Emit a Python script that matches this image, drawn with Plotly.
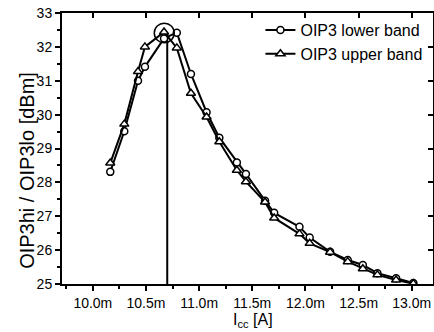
import plotly.graph_objects as go

# Bias current I_cc [A] (shared sweep points)
i_cc = [10.164e-3, 10.296e-3, 10.425e-3, 10.49e-3, 10.67e-3, 10.79e-3, 10.923e-3,
        11.07e-3, 11.19e-3, 11.355e-3, 11.44e-3, 11.62e-3, 11.706e-3, 11.944e-3,
        12.04e-3, 12.232e-3, 12.398e-3, 12.54e-3, 12.677e-3, 12.853e-3, 13.015e-3]
oip3_lower = [28.31, 29.51, 31.00, 31.41, 32.25, 32.42, 31.20,
              30.07, 29.32, 28.59, 28.25, 27.46, 27.10, 26.69,
              26.37, 25.95, 25.71, 25.56, 25.32, 25.17, 25.03]
oip3_upper = [28.57, 29.72, 31.27, 32.00, 32.44, 31.97, 30.63,
              29.93, 29.20, 28.36, 28.02, 27.42, 26.95, 26.48,
              26.20, 25.94, 25.66, 25.45, 25.27, 25.12, 25.01]

x_ticks = [10.0e-3, 10.5e-3, 11.0e-3, 11.5e-3, 12.0e-3, 12.5e-3, 13.0e-3]
x_ticklabels = ["10.0m", "10.5m", "11.0m", "11.5m", "12.0m", "12.5m", "13.0m"]
x_title = "I<sub>cc</sub> [A]"
y_title = "OIP3hi / OIP3lo [dBm]"

peak_x = 10.70e-3
peak_y = 32.41

FONT = "Liberation Sans, Arial, sans-serif"

fig = go.Figure()
fig.add_trace(go.Scatter(
    x=i_cc, y=oip3_lower, mode="lines+markers", name="OIP3 lower band",
    line=dict(color="black", width=2),
    marker=dict(symbol="circle", size=7, color="white", line=dict(color="black", width=1.5)),
))
fig.add_trace(go.Scatter(
    x=i_cc, y=oip3_upper, mode="lines+markers", name="OIP3 upper band",
    line=dict(color="black", width=2),
    marker=dict(symbol="triangle-up", size=8, color="white", line=dict(color="black", width=1.5)),
))

# vertical marker line and circle at the peak
fig.add_shape(type="line", x0=peak_x, x1=peak_x, y0=25, y1=peak_y,
              line=dict(color="black", width=2), layer="below")
fig.add_shape(type="circle", x0=10.672e-3 - 0.094e-3, x1=10.672e-3 + 0.094e-3,
              y0=peak_y - 0.29, y1=peak_y + 0.29,
              line=dict(color="black", width=1.5))

xr = [9.71e-3, 13.2e-3]
yr = [25, 33]

# axis titles as annotations (placed like the original, slightly off-centre)
fig.add_annotation(text=y_title, textangle=-90, xref="paper", yref="paper",
                   x=-0.094, y=0.418, xanchor="center", yanchor="middle",
                   showarrow=False, font=dict(size=20))
fig.add_annotation(text=x_title, xref="paper", yref="paper",
                   x=0.515, y=-0.177, xanchor="center", yanchor="bottom",
                   showarrow=False, font=dict(size=16))

fig.update_layout(
    width=434, height=332,
    margin=dict(l=62, r=1, t=13, b=48),
    paper_bgcolor="white", plot_bgcolor="white",
    font=dict(family=FONT, color="black", size=14),
    showlegend=True,
    legend=dict(x=0.985, y=1.0, xanchor="right", yanchor="top",
                bgcolor="rgba(0,0,0,0)", font=dict(size=16),
                tracegroupgap=0, itemwidth=30),
    xaxis=dict(range=xr, tickvals=x_ticks, ticktext=x_ticklabels,
               showgrid=False, zeroline=False,
               showline=True, linecolor="black", linewidth=2,
               ticks="outside", ticklen=5, tickwidth=1.5, tickcolor="black",
               minor=dict(ticks="outside", ticklen=3, dtick=0.25e-3, tick0=10.0e-3,
                          tickcolor="black", tickwidth=1.5),
               tickfont=dict(size=14)),
    yaxis=dict(range=yr, dtick=1, showgrid=False, zeroline=False,
               showline=True, linecolor="black", linewidth=2,
               ticks="outside", ticklen=5, tickwidth=1.5, tickcolor="black",
               minor=dict(ticks="outside", ticklen=3, dtick=0.5,
                          tickcolor="black", tickwidth=1.5),
               tickfont=dict(size=14)),
    xaxis2=dict(overlaying="x", side="top", matches="x", range=xr,
                tickvals=x_ticks, showticklabels=False, showgrid=False, zeroline=False,
                showline=True, linecolor="black", linewidth=2,
                ticks="inside", ticklen=5, tickwidth=1.5, tickcolor="black"),
    yaxis2=dict(overlaying="y", side="right", matches="y", range=yr, dtick=1,
                showticklabels=False, showgrid=False, zeroline=False,
                showline=True, linecolor="black", linewidth=2,
                ticks="inside", ticklen=5, tickwidth=1.5, tickcolor="black"),
)
# invisible trace to activate the mirrored axes
fig.add_trace(go.Scatter(x=[i_cc[0]], y=[oip3_lower[0]], xaxis="x2", yaxis="y2",
                         mode="markers", marker=dict(opacity=0), showlegend=False,
                         hoverinfo="skip"))

fig.write_html("out.html")
